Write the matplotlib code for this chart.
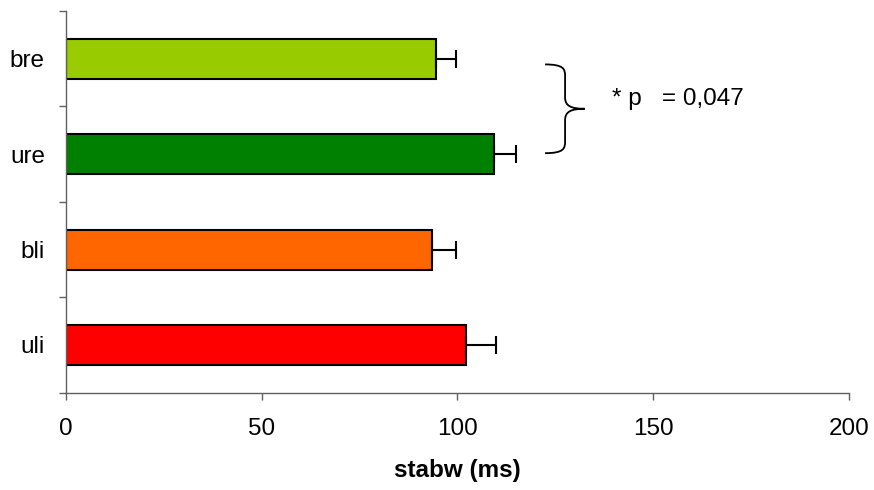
import matplotlib
matplotlib.use("Agg")
import matplotlib.pyplot as plt
from matplotlib.path import Path
from matplotlib.patches import PathPatch
import numpy as np

plt.rcParams['font.family'] = ['Liberation Sans', 'DejaVu Sans']

# conditions, bottom to top
labels = ['uli', 'bli', 'ure', 'bre']
means = [102.1, 93.5, 109.4, 94.5]
errs = [7.7, 6.1, 5.5, 5.1]
colors = ['#FF0000', '#FF6600', '#008000', '#99CC00']
p_text = '* p   = 0,047'

fs = 17.5

fig = plt.figure(figsize=(8.74, 4.9), dpi=100)
ax = fig.add_axes([0.0752, 0.1986, 0.8962, 0.779])

y = np.arange(len(labels))
ax.barh(y, means, height=0.42, color=colors, edgecolor='black', linewidth=1.5, zorder=2)
ax.errorbar(means, y, xerr=[np.zeros(len(errs)), errs], fmt='none',
            ecolor='black', elinewidth=1.5, capsize=6.5, capthick=1.5, zorder=3)

ax.set_xlim(0, 200)
ax.set_ylim(-0.5, len(labels) - 0.5)
ax.set_xticks([0, 50, 100, 150, 200])
ax.tick_params(axis='x', direction='out', length=5, width=1, color='#606060',
               labelsize=fs, pad=13)

# category boundary ticks, labels centred between them
ax.set_yticks(np.arange(-0.5, len(labels), 1.0))
ax.set_yticklabels([])
ax.set_yticks(y, minor=True)
ax.set_yticklabels(labels, minor=True)
ax.tick_params(axis='y', which='major', direction='out', length=5, width=1, color='#606060')
ax.tick_params(axis='y', which='minor', length=0, labelsize=fs, pad=15)

for s in ['top', 'right']:
    ax.spines[s].set_visible(False)
for s in ['left', 'bottom']:
    ax.spines[s].set_color('#606060')
    ax.spines[s].set_linewidth(1)

ax.set_xlabel('stabw (ms)', fontsize=fs, fontweight='bold', labelpad=14)

# curly brace between ure and bre
y_top, y_bot = y[3] - 0.06, y[2] + 0.01
y_mid = (y_top + y_bot) / 2
x0, x1, x2 = 122.4, 127.5, 132.5
verts = [
    (x0, y_top), (x1 - 0.3, y_top), (x1, y_top - 0.05), (x1, y_top - 0.12),
    (x1, y_mid + 0.12),
    (x1, y_mid + 0.03), (x1 + 1.5, y_mid), (x2, y_mid),
    (x1 + 1.5, y_mid), (x1, y_mid - 0.03), (x1, y_mid - 0.12),
    (x1, y_bot + 0.12),
    (x1, y_bot + 0.05), (x1 - 0.3, y_bot), (x0, y_bot),
]
codes = [Path.MOVETO, Path.CURVE4, Path.CURVE4, Path.CURVE4,
         Path.LINETO,
         Path.CURVE4, Path.CURVE4, Path.CURVE4,
         Path.CURVE4, Path.CURVE4, Path.CURVE4,
         Path.LINETO,
         Path.CURVE4, Path.CURVE4, Path.CURVE4]
ax.add_patch(PathPatch(Path(verts, codes), facecolor='none', edgecolor='black',
                       linewidth=1.3, clip_on=False))
ax.text(139.5, y_mid + 0.1, p_text, fontsize=fs, va='center', ha='left')

fig.savefig('out.png', dpi=100)
